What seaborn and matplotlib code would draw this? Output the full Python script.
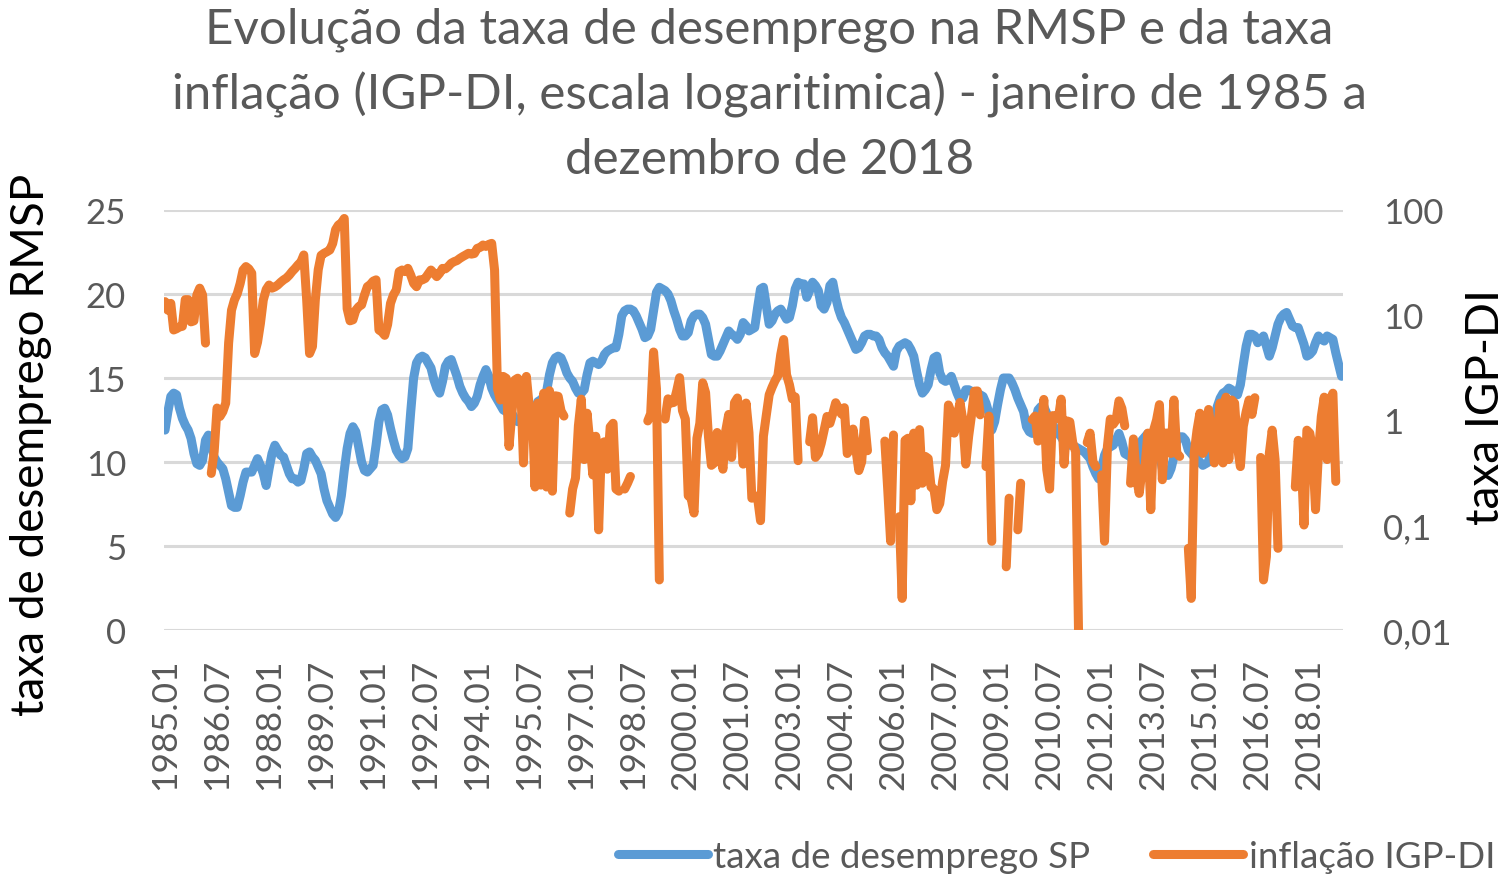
import numpy as np
import pandas as pd
import matplotlib.pyplot as plt
import seaborn as sns
from matplotlib.lines import Line2D
from matplotlib.ticker import FixedLocator, NullLocator

nan = np.nan

# taxa de desemprego RMSP (%), mensal jan/1985 - dez/2018
desemprego = [
    11.9, 13.0, 13.9, 14.1, 14.0, 13.2, 12.6, 12.2, 11.9, 11.4, 10.5, 9.9,   # 1985
    9.8, 10.1, 11.3, 11.6, 11.0, 10.3, 10.0, 9.8, 9.6, 9.0, 8.2, 7.4,        # 1986
    7.3, 7.3, 8.0, 8.8, 9.4, 9.4, 9.4, 9.8, 10.2, 9.8, 9.3, 8.6,             # 1987
    9.6, 10.5, 11.0, 10.7, 10.4, 10.3, 9.8, 9.3, 9.0, 9.0, 8.8, 8.9,         # 1988
    9.6, 10.5, 10.6, 10.3, 10.1, 9.7, 9.3, 8.4, 7.7, 7.3, 6.9, 6.7,          # 1989
    7.0, 8.0, 9.5, 10.8, 11.7, 12.1, 11.8, 10.9, 10.0, 9.5, 9.4, 9.6,        # 1990
    9.8, 11.0, 12.4, 13.1, 13.2, 12.8, 12.0, 11.3, 10.7, 10.4, 10.2, 10.3,   # 1991
    10.8, 13.0, 15.0, 15.9, 16.2, 16.3, 16.2, 15.9, 15.6, 14.9, 14.4, 14.1,  # 1992
    14.8, 15.7, 16.0, 16.1, 15.6, 15.1, 14.5, 14.1, 13.8, 13.6, 13.3, 13.5,  # 1993
    13.9, 14.6, 15.1, 15.5, 15.1, 14.4, 14.0, 13.7, 13.4, 13.1, 13.0, 12.9,  # 1994
    12.9, 12.6, 12.4, 12.5, 12.7, 12.8, 12.8, 13.0, 13.2, 13.6, 13.7, 13.9,  # 1995
    14.2, 15.2, 15.9, 16.2, 16.3, 16.2, 15.8, 15.3, 15.0, 14.8, 14.4, 14.1,  # 1996
    14.1, 14.3, 15.2, 15.9, 16.0, 15.9, 15.8, 16.0, 16.4, 16.6, 16.7, 16.8,  # 1997
    16.8, 17.6, 18.7, 19.0, 19.1, 19.1, 19.0, 18.7, 18.3, 17.9, 17.4, 17.5,  # 1998
    17.9, 19.0, 20.1, 20.4, 20.3, 20.2, 20.0, 19.6, 19.0, 18.5, 17.9, 17.5,  # 1999
    17.5, 17.7, 18.4, 18.7, 18.8, 18.8, 18.6, 18.2, 17.3, 16.4, 16.3, 16.3,  # 2000
    16.6, 17.0, 17.4, 17.8, 17.6, 17.5, 17.3, 17.6, 18.3, 18.1, 17.8, 17.9,  # 2001
    18.0, 19.2, 20.3, 20.4, 19.3, 18.2, 18.4, 18.8, 19.0, 19.1, 18.8, 18.5,  # 2002
    18.6, 19.3, 20.3, 20.7, 20.6, 20.6, 19.8, 20.2, 20.7, 20.5, 20.2, 19.3,  # 2003
    19.1, 19.5, 20.5, 20.7, 19.8, 19.1, 18.6, 18.3, 17.9, 17.5, 17.1, 16.7,  # 2004
    16.8, 17.1, 17.5, 17.6, 17.6, 17.5, 17.5, 17.3, 16.8, 16.5, 16.3, 16.0,  # 2005
    15.7, 16.6, 16.9, 17.0, 17.1, 17.0, 16.7, 16.3, 15.4, 14.6, 14.1, 14.3,  # 2006
    14.6, 15.5, 16.2, 16.3, 15.3, 14.9, 14.8, 14.9, 15.1, 14.6, 14.1, 13.7,  # 2007
    13.8, 14.3, 14.3, 14.2, 14.2, 14.1, 14.0, 13.9, 13.5, 12.9, 11.9, 12.4,  # 2008
    13.4, 14.3, 15.0, 15.0, 15.0, 14.7, 14.3, 13.8, 13.4, 13.0, 12.1, 11.8,  # 2009
    11.7, 12.3, 13.1, 13.3, 13.3, 12.9, 12.5, 12.3, 11.9, 11.7, 11.5, 11.2,  # 2010
    11.1, 11.0, 11.0, 10.9, 10.8, 10.7, 10.6, 10.4, 10.2, 9.7, 9.3, 9.0,     # 2011
    9.6, 10.4, 10.8, 10.9, 11.0, 11.3, 11.7, 11.2, 10.5, 10.4, 10.3, 10.0,   # 2012
    9.7, 10.2, 11.3, 11.5, 11.7, 11.6, 11.4, 11.3, 10.5, 9.6, 9.3, 9.2,      # 2013
    9.6, 10.3, 11.3, 11.5, 11.5, 11.3, 10.7, 10.5, 10.3, 10.2, 10.0, 9.8,    # 2014
    9.9, 10.0, 11.2, 12.4, 13.3, 13.8, 14.1, 14.2, 14.4, 14.3, 14.1, 14.0,   # 2015
    14.6, 15.8, 16.9, 17.6, 17.6, 17.5, 17.1, 17.3, 17.5, 16.9, 16.3, 16.8,  # 2016
    17.5, 18.2, 18.6, 18.8, 18.9, 18.5, 18.1, 18.0, 18.0, 17.5, 17.0, 16.3,  # 2017
    16.4, 16.6, 17.1, 17.5, 17.3, 17.2, 17.5, 17.4, 17.3, 16.5, 15.8, 15.1,  # 2018
]

# inflação IGP-DI (% ao mês); meses negativos ficam sem ponto na escala log
igp_di = [
    13.4, 11.1, 12.9, 7.2, 7.4, 7.7, 7.8, 14.0, 14.0, 8.6, 8.8, 15.5,        # 1985
    18.0, 15.5, 5.4, nan, 0.31, 0.5, 1.3, 1.08, 1.2, 1.45, 5.4, 11.1,       # 1986
    13.9, 16.0, 20.0, 26.8, 28.9, 27.5, 25.0, 4.3, 5.5, 8.3, 13.9, 17.5,    # 1987
    19.3, 18.0, 18.5, 19.3, 20.5, 21.6, 22.5, 24.0, 26.0, 27.8, 30.0, 32.0, # 1988
    37.3, 14.0, 4.3, 5.0, 14.0, 27.0, 37.0, 38.7, 40.0, 41.6, 48.0, 65.0,   # 1989
    72.0, 75.0, 83.0, 11.5, 8.8, 9.0, 11.1, 12.0, 12.5, 15.5, 18.6, 19.5,   # 1990
    21.0, 21.6, 7.2, 6.9, 6.4, 8.1, 12.9, 15.5, 17.3, 25.9, 26.8, 25.9,     # 1991
    27.8, 24.0, 20.0, 18.6, 21.6, 21.6, 22.3, 24.5, 26.8, 25.0, 23.2, 25.0, # 1992
    27.8, 27.5, 29.0, 31.1, 32.2, 33.0, 34.6, 36.0, 37.3, 38.7, 38.0, 38.5, # 1993
    43.1, 44.0, 46.4, 45.0, 47.0, 48.1, 26.8, 2.0, 1.55, 2.6, 2.5, 0.56,    # 1994
    1.16, 2.4, 2.5, 2.3, 0.39, 2.6, 1.34, 1.3, 0.23, 1.45, 0.24, 1.8,       # 1995
    0.23, 1.9, 0.21, 1.7, 1.68, 1.22, 1.09, nan, 0.13, 0.22, 0.28, 0.88,    # 1996
    1.58, 0.42, 1.16, 0.59, 0.30, 0.70, 0.09, 0.6, 0.62, 0.34, 0.86, 0.93,  # 1997
    0.22, 0.21, nan, 0.22, 0.25, 0.29, nan, nan, nan, nan, nan, 0.98,       # 1998
    1.15, 4.44, 1.98, 0.03, nan, 1.02, 1.59, 1.45, 1.47, 1.89, 2.53, 1.23,  # 1999
    1.02, 0.19, 0.18, 0.13, 0.67, 0.93, 2.26, 1.82, 0.69, 0.37, 0.39, 0.76, # 2000
    0.49, 0.34, 0.80, 1.13, 0.44, 1.46, 1.62, 0.90, 0.38, 1.45, 0.76, 0.18, # 2001
    0.19, 0.18, 0.11, 0.70, 1.11, 1.74, 2.05, 2.36, 2.64, 4.21, 5.84, 2.70, # 2002
    2.17, 1.59, 1.66, 0.41, nan, nan, nan, 0.62, 1.05, 0.44, 0.48, 0.60,    # 2003
    0.80, 1.08, 0.93, 1.15, 1.46, 1.29, 1.14, 1.31, 0.48, 0.53, 0.82, 0.52, # 2004
    0.33, 0.40, 0.99, 0.51, nan, nan, nan, nan, nan, 0.63, 0.22, 0.07,      # 2005
    0.72, nan, 0.12, 0.02, 0.64, 0.67, 0.17, 0.75, 0.24, 0.81, 0.25, 0.45,  # 2006
    0.43, 0.23, 0.22, 0.14, 0.16, 0.26, 0.37, 1.39, 1.17, 0.75, 1.05, 1.47, # 2007
    0.99, 0.38, 0.70, 1.12, 1.88, 1.89, 1.12, nan, 0.36, 1.09, 0.07, nan,   # 2008
    0.01, nan, nan, 0.04, 0.18, nan, nan, 0.09, 0.25, nan, 0.07, nan,       # 2009
    1.01, 1.09, 0.63, 0.72, 1.57, 0.34, 0.22, 1.10, 1.10, 1.03, 1.58, 0.38, # 2010
    0.98, 0.96, 0.61, 0.50, 0.01, nan, nan, 0.61, 0.75, 0.40, 0.36, nan,    # 2011
    0.30, 0.07, 0.56, 1.02, 0.91, 1.0, 1.52, 1.29, 0.88, nan, 0.25, 0.66,   # 2012
    0.29, 0.2, 0.34, 0.36, 0.75, 0.14, 0.8, 1.0, 1.4, 0.27, 0.75, 0.75,     # 2013
    0.48, 1.55, 0.48, 0.45, nan, nan, 0.06, 0.02, 0.48, 0.8, 1.16, 0.48,    # 2014
    0.55, 1.26, 0.75, 0.39, 0.75, 1.45, 0.39, 1.65, 0.42, 1.55, 1.45, 0.55, # 2015
    0.36, 0.87, 1.2, 1.55, 1.13, 1.63, nan, 0.44, 0.03, 0.05, 0.48, 0.8,    # 2016
    0.42, 0.06, nan, nan, nan, nan, nan, 0.23, 0.64, 0.45, 0.1, 0.8,        # 2017
    0.75, 0.52, 0.14, 0.48, 1.08, 1.65, 0.42, 1.55, 1.8, 0.26, nan, nan,    # 2018
]

rotulos_x = ["1985.01", "1986.07", "1988.01", "1989.07", "1991.01", "1992.07",
             "1994.01", "1995.07", "1997.01", "1998.07", "2000.01", "2001.07",
             "2003.01", "2004.07", "2006.01", "2007.07", "2009.01", "2010.07",
             "2012.01", "2013.07", "2015.01", "2016.07", "2018.01"]
ticks_esq = [0, 5, 10, 15, 20, 25]
ticks_dir = [0.01, 0.1, 1, 10, 100]
rotulos_dir = ["0,01", "0,1", "1", "10", "100"]

titulo = ("Evolução da taxa de desemprego na RMSP e da taxa\n"
          "inflação (IGP-DI, escala logaritimica) - janeiro de 1985 a\n"
          "dezembro de 2018")

AZUL = "#5b9bd5"
LARANJA = "#ed7d31"
CINZA = "#595959"

sns.set_style("white")
plt.rcParams["font.family"] = ["Lato", "DejaVu Sans"]

meses = np.arange(len(desemprego))
df_des = pd.DataFrame({"mes": meses, "taxa": desemprego})
df_igp = pd.DataFrame({"mes": meses, "igp": igp_di})
# cada trecho sem valor faltante vira uma unidade, para a linha ter lacunas
df_igp["trecho"] = df_igp["igp"].isna().cumsum()
df_igp = df_igp.dropna()

fig = plt.figure(figsize=(15.09, 8.78), dpi=100)
ax = fig.add_axes([0.1084, 0.2813, 0.7816, 0.4784])
ax2 = ax.twinx()

sns.lineplot(data=df_des, x="mes", y="taxa", ax=ax, color=AZUL, linewidth=6.5,
             solid_capstyle="round", solid_joinstyle="round", legend=False)
sns.lineplot(data=df_igp, x="mes", y="igp", units="trecho", estimator=None,
             ax=ax2, color=LARANJA, linewidth=6.5, solid_capstyle="round",
             solid_joinstyle="round", legend=False)

ax.set_xlim(-0.5, len(meses) - 0.5)
ax.set_ylim(0, 25)
ax.yaxis.set_major_locator(FixedLocator(ticks_esq))
ax.set_xticks(np.arange(0, len(meses), 18))
ax.set_xticklabels(rotulos_x, rotation=90)
ax.grid(axis="y", color="#d9d9d9", linewidth=2.2)
ax.grid(axis="x", visible=False)

ax2.set_yscale("log")
ax2.set_ylim(0.01, 100)
ax2.yaxis.set_major_locator(FixedLocator(ticks_dir))
ax2.yaxis.set_minor_locator(NullLocator())
ax2.set_yticklabels(rotulos_dir)
ax2.grid(False)

for a in (ax, ax2):
    for s in a.spines.values():
        s.set_visible(False)
ax.tick_params(axis="y", length=0, pad=27, labelsize=25, labelcolor=CINZA)
ax.tick_params(axis="x", length=0, pad=20, labelsize=25.5, labelcolor=CINZA)
ax2.tick_params(axis="y", length=0, pad=29, labelsize=25, labelcolor=CINZA)

ax.set_xlabel("")
ax.set_ylabel("taxa de desemprego RMSP", fontsize=33, color="black")
ax.yaxis.set_label_coords(-0.0946, 0.443)
ax2.set_ylabel("taxa IGP-DI", fontsize=33, color="black")
ax2.yaxis.set_label_coords(1.1034, 0.533)

fig.text(0.51, 0.992, titulo, ha="center", va="top", fontsize=35.5,
         color=CINZA, linespacing=1.54)

handles = [Line2D([], [], color=AZUL, linewidth=6.5, solid_capstyle="round"),
           Line2D([], [], color=LARANJA, linewidth=6.5, solid_capstyle="round")]
fig.legend(handles, ["taxa de desemprego SP", "inflação IGP-DI"], loc="center",
           bbox_to_anchor=(0.70, 0.023), ncol=2, frameon=False, fontsize=26.5,
           labelcolor=CINZA, handlelength=2.45, handletextpad=0.15,
           columnspacing=1.7)

fig.savefig("out.png", dpi=100)
